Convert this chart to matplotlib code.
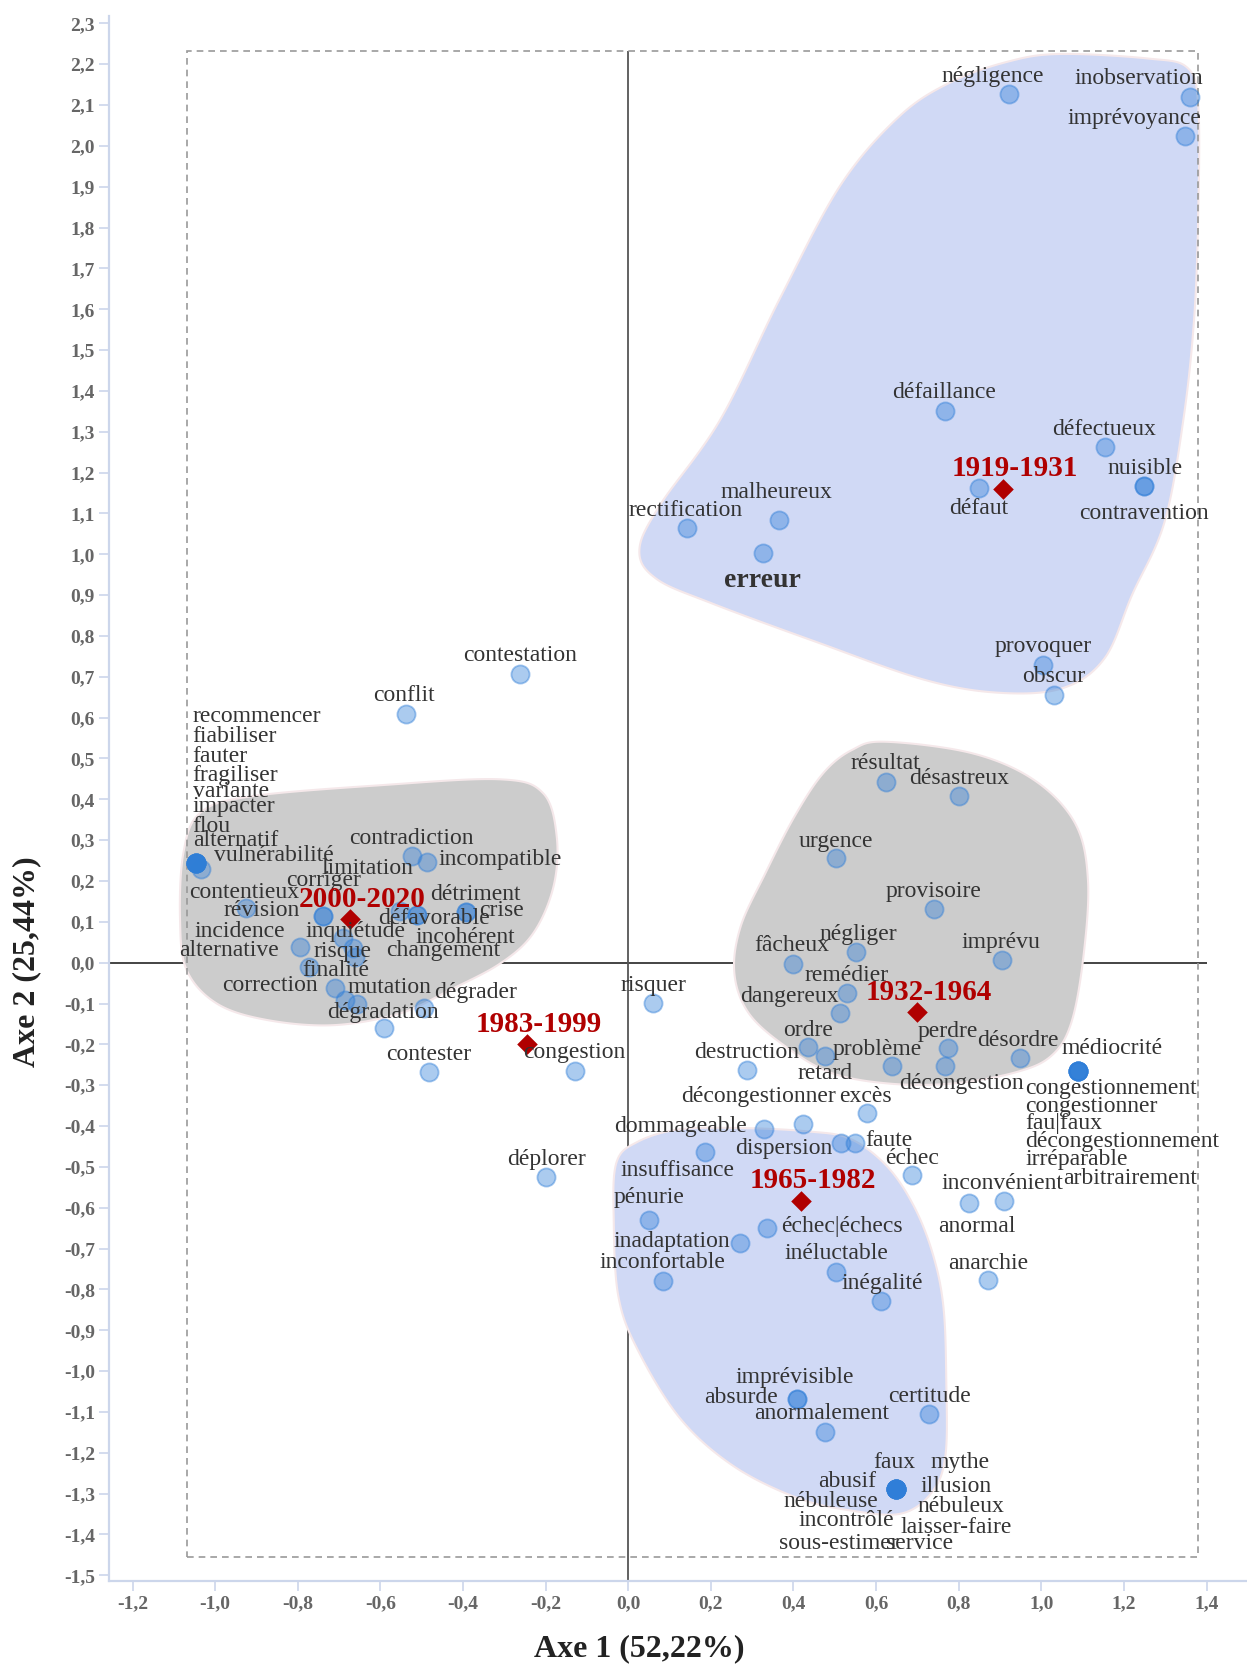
import numpy as np
import matplotlib.pyplot as plt
from matplotlib.patches import Polygon, Rectangle

plt.rcParams['font.family'] = ['Liberation Serif', 'DejaVu Serif']

# --- word coordinates on the factorial plane (Axe 1, Axe 2) ---
words = [
    'négligence', 'inobservation', 'imprévoyance', 'défaillance', 'défectueux',
    'nuisible', 'contravention', 'défaut', 'malheureux', 'rectification',
    'erreur', 'provoquer', 'obscur',
    'contestation', 'conflit',
    'recommencer', 'fiabiliser', 'fauter', 'fragiliser', 'variante',
    'impacter', 'flou', 'alternatif', 'vulnérabilité',
    'contradiction', 'incompatible', 'limitation', 'corriger', 'contentieux',
    'révision', 'détriment', 'crise', 'défavorable', 'incidence',
    'inquiétude', 'incohérent', 'alternative', 'risque', 'changement',
    'finalité', 'correction', 'mutation', 'dégrader', 'dégradation',
    'contester', 'congestion', 'risquer', 'déplorer',
    'résultat', 'désastreux', 'urgence', 'provisoire', 'fâcheux', 'négliger',
    'imprévu', 'remédier', 'dangereux', 'ordre', 'retard', 'destruction',
    'problème', 'perdre', 'décongestion', 'désordre',
    'médiocrité', 'congestionnement', 'congestionner', 'fau|faux',
    'décongestionnement', 'irréparable', 'arbitrairement',
    'dommageable', 'insuffisance', 'décongestionner', 'excès', 'dispersion',
    'faute', 'échec', 'pénurie', 'échec|échecs', 'inadaptation',
    'inconfortable', 'inéluctable', 'inégalité', 'inconvénient', 'anormal',
    'anarchie', 'imprévisible', 'absurde', 'anormalement', 'certitude',
    'faux', 'mythe', 'abusif', 'illusion', 'nébuleuse', 'nébuleux',
    'incontrôlé', 'laisser-faire', 'sous-estimer', 'service',
]
axe1 = [
    0.922, 1.360, 1.349, 0.768, 1.154,
    1.249, 1.249, 0.850, 0.364, 0.143,
    0.326, 1.005, 1.030,
    -0.263, -0.539,
    -1.047, -1.047, -1.047, -1.047, -1.047,
    -1.047, -1.047, -1.047, -1.035,
    -0.523, -0.488, -0.552, -0.738, -0.738,
    -0.926, -0.393, -0.393, -0.512, -0.795,
    -0.690, -0.512, -0.657, -0.666, -0.662,
    -0.774, -0.710, -0.686, -0.494, -0.591,
    -0.482, -0.130, 0.061, -0.199,
    0.624, 0.801, 0.503, 0.740, 0.400, 0.552,
    0.904, 0.529, 0.513, 0.436, 0.477, 0.287,
    0.639, 0.773, 0.768, 0.948,
    1.090, 1.090, 1.090, 1.090,
    1.090, 1.090, 1.090,
    0.187, 0.514, 0.329, 0.579, 0.422,
    0.549, 0.686, 0.051, 0.336, 0.270,
    0.083, 0.504, 0.612, 0.825, 0.909,
    0.872, 0.408, 0.408, 0.477, 0.729,
    0.648, 0.648, 0.648, 0.648, 0.648, 0.648,
    0.648, 0.648, 0.648, 0.648,
]
axe2 = [
    2.126, 2.120, 2.024, 1.351, 1.262,
    1.166, 1.166, 1.163, 1.083, 1.065,
    1.002, 0.729, 0.656,
    0.708, 0.609,
    0.243, 0.243, 0.243, 0.243, 0.243,
    0.243, 0.243, 0.243, 0.229,
    0.262, 0.247, 0.126, 0.114, 0.114,
    0.133, 0.125, 0.125, 0.117, 0.038,
    0.060, 0.117, -0.100, 0.035, 0.015,
    -0.010, -0.063, -0.091, -0.112, -0.161,
    -0.267, -0.264, -0.098, -0.524,
    0.443, 0.409, 0.256, 0.131, -0.004, 0.027,
    0.006, -0.075, -0.124, -0.207, -0.228, -0.262,
    -0.254, -0.210, -0.254, -0.233,
    -0.264, -0.264, -0.264, -0.264,
    -0.264, -0.264, -0.264,
    -0.463, -0.442, -0.408, -0.369, -0.395,
    -0.441, -0.520, -0.630, -0.650, -0.686,
    -0.779, -0.757, -0.828, -0.588, -0.583,
    -0.777, -1.069, -1.069, -1.148, -1.104,
    -1.289, -1.289, -1.289, -1.289, -1.289, -1.289,
    -1.289, -1.289, -1.289, -1.289,
]

# --- period (sub-corpus) positions ---
periodes = ['1919-1931', '1932-1964', '1965-1982', '1983-1999', '2000-2020']
per_axe1 = [0.907, 0.699, 0.418, -0.246, -0.674]
per_axe2 = [1.161, -0.121, -0.583, -0.200, 0.106]

# --- cluster outlines (data units) ---
zone_haut_x = [1.046, 1.257, 1.354, 1.380, 1.380, 1.370, 1.344, 1.298, 1.220, 1.153, 1.051, 0.897,
               0.716, 0.459, 0.202, 0.068, 0.027, 0.076, 0.223, 0.367, 0.514, 0.657, 0.783, 0.922]
zone_haut_y = [2.225, 2.214, 2.191, 2.097, 1.837, 1.577, 1.330, 1.078, 0.901, 0.745, 0.672, 0.661,
               0.693, 0.784, 0.880, 0.940, 1.010, 1.119, 1.330, 1.626, 1.904, 2.073, 2.157, 2.207]
zone_bas_x = [-0.029, 0.022, 0.125, 0.279, 0.434, 0.537, 0.626, 0.691, 0.737, 0.763, 0.770, 0.768,
              0.735, 0.660, 0.537, 0.408, 0.254, 0.125, 0.022, -0.024, -0.035]
zone_bas_y = [-0.491, -0.439, -0.408, -0.405, -0.413, -0.431, -0.498, -0.595, -0.712, -0.842, -1.024,
              -1.206, -1.297, -1.349, -1.341, -1.310, -1.232, -1.115, -0.946, -0.816, -0.634]
zone_gauche_x = [-0.916, -0.593, -0.310, -0.206, -0.173, -0.181, -0.230, -0.310, -0.432, -0.552,
                 -0.714, -0.876, -0.996, -1.069, -1.085, -1.077, -1.037]
zone_gauche_y = [0.407, 0.435, 0.449, 0.415, 0.308, 0.186, 0.072, -0.002, -0.067, -0.124,
                 -0.153, -0.140, -0.100, -0.018, 0.105, 0.268, 0.366]
zone_centre_x = [0.622, 0.832, 0.983, 1.082, 1.113, 1.102, 1.072, 1.022, 0.932, 0.782, 0.632,
                 0.492, 0.382, 0.292, 0.257, 0.272, 0.332, 0.402, 0.472, 0.542]
zone_centre_y = [0.541, 0.513, 0.447, 0.341, 0.202, 0.015, -0.149, -0.230, -0.270, -0.296, -0.296,
                 -0.270, -0.206, -0.124, -0.026, 0.088, 0.219, 0.357, 0.464, 0.521]

# label placement (pixel offsets from the point, alignment)
lab_off = {
    'négligence': (-16, 18), 'inobservation': (-51, 18), 'imprévoyance': (-51, 18),
    'défaillance': (-1, 18), 'défectueux': (-1, 18), 'nuisible': (1, 18),
    'contravention': (0, -27), 'défaut': (-1, -21), 'malheureux': (-2, 28),
    'rectification': (-2, 17), 'erreur': (0, -27), 'provoquer': (0, 18), 'obscur': (0, 18),
    'contestation': (0, 18), 'conflit': (-2, 18),
    'recommencer': (-3, 147), 'fiabiliser': (-3, 127), 'fauter': (-3, 107),
    'fragiliser': (-3, 88), 'variante': (-3, 72), 'impacter': (-3, 57), 'flou': (-3, 37),
    'alternatif': (-3, 23), 'vulnérabilité': (13, 14),
    'contradiction': (-1, 17), 'incompatible': (74, 2), 'limitation': (-33, 43),
    'corriger': (0, 36), 'contentieux': (-79, 24), 'révision': (16, -2),
    'détriment': (9, 17), 'crise': (36, 1), 'défavorable': (17, -4),
    'incidence': (-60, 16), 'inquiétude': (12, 7), 'incohérent': (49, -23),
    'alternative': (-128, 53), 'risque': (-11, -3), 'changement': (88, 6),
    'finalité': (27, -4), 'correction': (-65, 3), 'mutation': (45, 12),
    'dégrader': (51, 16), 'dégradation': (-1, 16),
    'contester': (0, 17), 'congestion': (0, 18), 'risquer': (0, 17), 'déplorer': (0, 17),
    'résultat': (-1, 18), 'désastreux': (0, 17), 'urgence': (0, 17), 'provisoire': (0, 18),
    'fâcheux': (-2, 19), 'négliger': (2, 17), 'imprévu': (-1, 18), 'remédier': (0, 18),
    'dangereux': (-51, 17), 'ordre': (0, 17), 'retard': (0, -18), 'destruction': (0, 17),
    'problème': (-15, 17), 'perdre': (0, 17), 'décongestion': (16, -17), 'désordre': (-2, 17),
    'médiocrité': (34, 22), 'congestionnement': (-53, -18), 'congestionner': (-53, -36),
    'fau|faux': (-53, -53), 'décongestionnement': (-53, -71), 'irréparable': (-53, -89),
    'arbitrairement': (-15, -108),
    'dommageable': (-25, 25), 'insuffisance': (-163, -27), 'décongestionner': (-6, 33),
    'excès': (-2, 17), 'dispersion': (-19, -24), 'faute': (34, 2), 'échec': (0, 17),
    'pénurie': (0, 22), 'échec|échecs': (75, 2), 'inadaptation': (-68, 1),
    'inconfortable': (0, 18), 'inéluctable': (0, 18), 'inégalité': (1, 17),
    'inconvénient': (33, 19), 'anormal': (-27, -26), 'anarchie': (0, 17),
    'imprévisible': (-2, 22), 'absurde': (-56, 2), 'anormalement': (-4, 18), 'certitude': (0, 17),
    'faux': (-2, 27), 'mythe': (64, 27), 'abusif': (-49, 8), 'illusion': (60, 3),
    'nébuleuse': (-65, -12), 'nébuleux': (65, -17), 'incontrôlé': (-50, -31),
    'laisser-faire': (60, -38), 'sous-estimer': (-57, -54), 'service': (24, -54),
}
left_aligned = {'recommencer', 'fiabiliser', 'fauter', 'fragiliser', 'variante', 'impacter',
                'flou', 'alternatif', 'vulnérabilité', 'congestionnement', 'congestionner',
                'fau|faux', 'décongestionnement', 'irréparable', 'arbitrairement'}


def smooth_closed(xs, ys, n=24):
    pts = np.column_stack([xs, ys])
    m = len(pts)
    t = np.linspace(0, 1, n, endpoint=False)[:, None]
    out = []
    for i in range(m):
        p0, p1, p2, p3 = pts[i - 1], pts[i], pts[(i + 1) % m], pts[(i + 2) % m]
        out.append(0.5 * (2 * p1 + (-p0 + p2) * t + (2 * p0 - 5 * p1 + 4 * p2 - p3) * t ** 2
                          + (-p0 + 3 * p1 - 3 * p2 + p3) * t ** 3))
    return np.vstack(out)


fig = plt.figure(figsize=(12.47, 16.66), dpi=100)
ax = fig.add_axes([0.0874, 0.051, 0.9126, 0.9394])
ax.set_xlim(-1.257, 1.498)
ax.set_ylim(-1.514, 2.318)

axis_col = '#ccd6eb'
for s in ['top', 'right']:
    ax.spines[s].set_visible(False)
for s in ['left', 'bottom']:
    ax.spines[s].set_color(axis_col)
    ax.spines[s].set_linewidth(1.6)

xt = np.round(np.arange(-1.2, 1.41, 0.2), 1)
yt = np.round(np.arange(-1.5, 2.31, 0.1), 1)
ax.set_xticks(xt)
ax.set_yticks(yt)
fmt = lambda v: ('%.1f' % (0.0 if abs(v) < 1e-9 else v)).replace('.', ',')
ax.set_xticklabels([fmt(v) for v in xt])
ax.set_yticklabels([fmt(v) for v in yt])
ax.tick_params(axis='both', colors=axis_col, length=7, width=1.2, labelcolor='#666666',
               labelsize=14, pad=3)
for lab in ax.get_xticklabels() + ax.get_yticklabels():
    lab.set_fontweight('bold')

# zero lines
ax.hlines(0, -1.257, 1.40, color='#111111', lw=1.1, zorder=1)
ax.vlines(0, -1.514, 2.232, color='#555555', lw=1.3, zorder=1)

# cluster zones
for zx, zy, col in [(zone_haut_x, zone_haut_y, '#d0d9f5'), (zone_bas_x, zone_bas_y, '#d0d9f5'),
                    (zone_gauche_x, zone_gauche_y, '#cccccc'), (zone_centre_x, zone_centre_y, '#cccccc')]:
    ax.add_patch(Polygon(smooth_closed(zx, zy), closed=True, facecolor=col,
                         edgecolor='#f5e8ea', lw=1.5, zorder=2))

# dashed frame
ax.add_patch(Rectangle((-1.068, -1.456), 2.448, 3.688, fill=False, edgecolor='#999999',
                       lw=1.2, ls=(0, (4, 3)), zorder=3))

# periods
ax.scatter(per_axe1, per_axe2, marker='D', s=110, color='#b00000', zorder=3, lw=0)
for p, x, y in zip(periodes, per_axe1, per_axe2):
    ax.annotate(p, (x, y), xytext=(12, 20), textcoords='offset pixels', ha='center',
                va='center', fontsize=21, fontweight='bold', color='#b00000', zorder=7)

# words
blue = np.array([47, 126, 216]) / 255
ax.scatter(axe1, axe2, s=170, facecolor=(*blue, 0.4), edgecolor=(*blue, 0.45), lw=1.3, zorder=4)
for w, x, y in zip(words, axe1, axe2):
    dx, dy = lab_off[w]
    kw = dict(fontsize=17, color='#333333')
    if w == 'erreur':
        kw = dict(fontsize=20, color='#333333', fontweight='bold')
    ax.annotate(w, (x, y), xytext=(dx, dy), textcoords='offset pixels',
                ha='left' if w in left_aligned else 'center', va='center', zorder=6, **kw)

fig.text(0.5124, 0.0102, 'Axe 1 (52,22%)', ha='center', va='center', fontsize=23,
         fontweight='bold', color='#222222')
fig.text(0.0217, 0.4226, 'Axe 2 (25,44%)', ha='center', va='center', fontsize=23,
         fontweight='bold', color='#222222', rotation=90)

fig.savefig('out.png', dpi=100)
